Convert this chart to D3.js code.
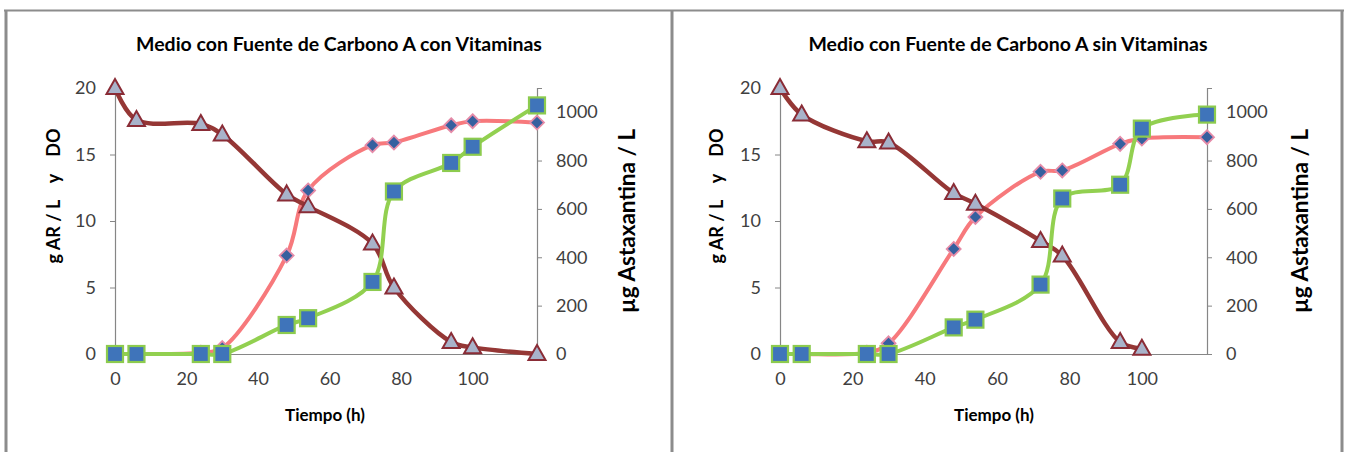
<!DOCTYPE html>
<html><head><meta charset="utf-8">
<script src="https://cdn.jsdelivr.net/npm/d3@7/dist/d3.min.js"></script>
<style>
html,body{margin:0;padding:0;background:#fff;}
svg{display:block;}
text{font-family:Lato,"Open Sans",sans-serif;}
</style></head>
<body>
<svg id="c" width="1347" height="452"></svg>
<script>
// ---- data ----
const time = [0, 6, 24, 30, 48, 54, 72, 78, 94, 100, 118];
const titles = ["Medio con Fuente de Carbono A con Vitaminas", "Medio con Fuente de Carbono A sin Vitaminas"];
// panel 1 (con vitaminas)
const ar1  = [20, 17.6, 17.3, 16.5, 12.0, 11.1, 8.3, 5.0, 0.9, 0.5, 0.0];
const do1  = [0, 0, 0.1, 0.45, 7.4, 12.3, 15.7, 15.9, 17.2, 17.5, 17.4];
const ast1 = [0, 0, 0, 0, 120, 148, 298, 672, 790, 857, 1028];
// panel 2 (sin vitaminas)
const ar2  = [20, 18.0, 16.0, 15.9, 12.1, 11.3, 8.5, 7.4, 0.9, 0.4, null];
const do2  = [0, 0, 0.1, 0.8, 7.9, 10.3, 13.7, 13.8, 15.8, 16.2, 16.3];
const ast2 = [0, 0, 0, 0, 110, 142, 287, 643, 700, 932, 990];
const xTicks = [0, 20, 40, 60, 80, 100];
const yLeftTicks = [0, 5, 10, 15, 20];
const yRightTicks = [0, 200, 400, 600, 800, 1000];
const yLeftLabel = "g AR / L    y    DO";
const yRightLabel = "µg Astaxantina / L";
const xLabel = "Tiempo (h)";

const svg = d3.select("#c");
const axisCol = "#868686", txtCol = "#404040";
const cAR = "#953735", cDO = "#F7797C", cAst = "#92D050";

// frame
const frameCol = "#8c8c8c";
svg.append("line").attr("x1",4).attr("x2",1344).attr("y1",10.5).attr("y2",10.5).attr("stroke",frameCol).attr("stroke-width",2);
[6, 672, 1342].forEach(x => svg.append("line").attr("x1",x).attr("x2",x).attr("y1",10).attr("y2",452).attr("stroke",frameCol).attr("stroke-width",3));

function panel(cfg){
  const g = svg.append("g");
  const x = d3.scaleLinear().domain([0,118]).range([cfg.x0, cfg.x1]);
  const yL = d3.scaleLinear().domain([0,20]).range([354, 88]);
  const yR = d3.scaleLinear().domain([0,1100]).range([354, 88]);

  // title
  g.append("text").attr("x", cfg.tx).attr("y", 51).attr("text-anchor","middle")
    .attr("font-weight","bold").attr("font-size",19.5).attr("fill","#000").text(cfg.title);

  // axes
  const ax = d3.axisBottom(x).tickValues(xTicks).tickSize(0).tickPadding(18).tickFormat(d3.format("d"));
  const gx = g.append("g").attr("transform","translate(0,354)").call(ax);
  const aL = d3.axisLeft(yL).tickValues(yLeftTicks).tickSize(5).tickPadding(14).tickFormat(d3.format("d"));
  const gyl = g.append("g").attr("transform",`translate(${cfg.x0},0)`).call(aL);
  const aR = d3.axisRight(yR).tickValues(yRightTicks).tickSize(5).tickPadding(14).tickFormat(d3.format("d"));
  const gyr = g.append("g").attr("transform",`translate(${cfg.x1},0)`).call(aR);
  [gx,gyl,gyr].forEach(a=>{
    a.select(".domain").attr("stroke",axisCol).attr("stroke-width",1.2);
    a.selectAll(".tick line").attr("stroke",axisCol);
    a.selectAll(".tick text").attr("fill",txtCol).attr("font-size",18).attr("font-family","Lato, sans-serif");
  });
  gx.selectAll(".tick text").attr("dy","0.71em");

  // labels
  g.append("text").attr("transform",`translate(${cfg.lx},196) rotate(-90)`).attr("text-anchor","middle")
    .attr("font-weight","bold").attr("font-size",18).attr("fill","#000").attr("dy","0.35em")
    .attr("xml:space","preserve").style("white-space","pre").text(yLeftLabel);
  g.append("text").attr("transform",`translate(${cfg.rx},221) rotate(-90)`).attr("text-anchor","middle")
    .attr("font-weight","bold").attr("font-size",22.5).attr("fill","#000").attr("dy","0.35em")
    .text(yRightLabel);
  g.append("text").attr("x",cfg.xlx).attr("y",421).attr("text-anchor","middle")
    .attr("font-weight","bold").attr("font-size",17).attr("fill","#000").text(xLabel);

  const curve = d3.curveCatmullRom.alpha(0.5);
  const mk = (vals) => time.map((t,i)=>({t, v: vals[i]})).filter(d=>d.v!=null);

  // DO series (left axis)
  const dDO = mk(cfg.dO);
  g.append("path").datum(dDO).attr("fill","none").attr("stroke",cDO).attr("stroke-width",4)
    .attr("d", d3.line().x(d=>x(d.t)).y(d=>yL(d.v)).curve(curve));
  g.selectAll(null).data(dDO).enter().append("path")
    .attr("transform",d=>`translate(${x(d.t)},${yL(d.v)})`)
    .attr("d","M0,-7L7,0L0,7L-7,0Z").attr("fill","#35609F").attr("stroke","#E58BA8").attr("stroke-width",1.8);

  // AR series (left axis)
  const dAR = mk(cfg.ar);
  g.append("path").datum(dAR).attr("fill","none").attr("stroke",cAR).attr("stroke-width",4.5)
    .attr("d", d3.line().x(d=>x(d.t)).y(d=>yL(d.v)).curve(curve));
  g.selectAll(null).data(dAR).enter().append("path")
    .attr("transform",d=>`translate(${x(d.t)},${yL(d.v)})`)
    .attr("d","M0,-9L8.5,6L-8.5,6Z").attr("fill","#A8B3CA").attr("stroke","#8A2C36").attr("stroke-width",2);

  // Astaxantina (right axis)
  const dA = mk(cfg.ast);
  g.append("path").datum(dA).attr("fill","none").attr("stroke",cAst).attr("stroke-width",4)
    .attr("d", d3.line().x(d=>x(d.t)).y(d=>yR(d.v)).curve(curve));
  g.selectAll(null).data(dA).enter().append("rect")
    .attr("x",d=>x(d.t)-8).attr("y",d=>yR(d.v)-8).attr("width",16).attr("height",16)
    .attr("fill","#3F74BA").attr("stroke","#8CCB4E").attr("stroke-width",2.2);
}

panel({x0:115, x1:537, tx:339, lx:54, rx:627, xlx:325, title:titles[0], ar:ar1, dO:do1, ast:ast1});
panel({x0:780, x1:1207, tx:1008, lx:717, rx:1300, xlx:994, title:titles[1], ar:ar2, dO:do2, ast:ast2});
</script>
</body></html>
